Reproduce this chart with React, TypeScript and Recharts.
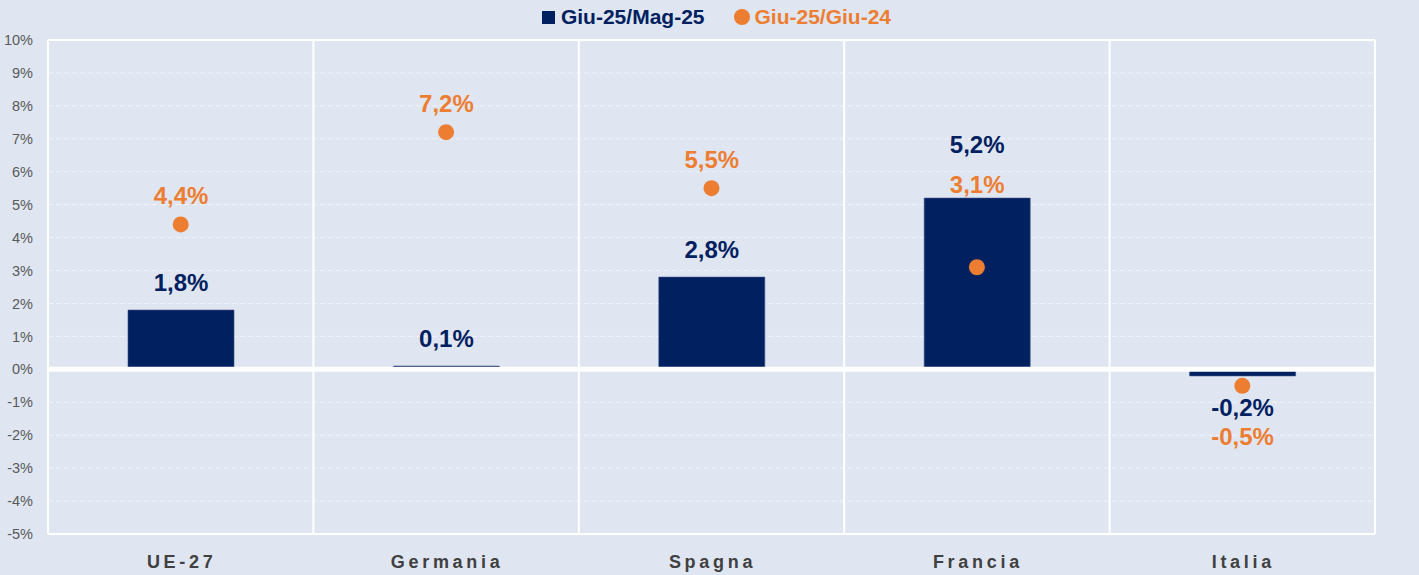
import React from 'react';
import {
  ComposedChart,
  Bar,
  Scatter,
  XAxis,
  YAxis,
  CartesianGrid,
  ReferenceLine,
  Legend,
  LabelList,
} from 'recharts';

const categories = ['UE-27', 'Germania', 'Spagna', 'Francia', 'Italia'];
const monthOnMonth = [1.8, 0.1, 2.8, 5.2, -0.2]; // Giu-25/Mag-25
const yearOnYear = [4.4, 7.2, 5.5, 3.1, -0.5]; // Giu-25/Giu-24
const yTicks = [-5, -4, -3, -2, -1, 0, 1, 2, 3, 4, 5, 6, 7, 8, 9, 10];

const NAVY = '#002060';
const ORANGE = '#ED7D31';
const BG = '#DFE6F2';
const FONT = '"Liberation Sans", Arial, sans-serif';

const data = categories.map((name, i) => ({
  name,
  mom: monthOnMonth[i],
  yoy: yearOnYear[i],
}));

const fmt = (v: number) => `${v.toFixed(1).replace('.', ',')}%`;

// both value labels are drawn from the bar label so they can avoid each other
const ValueLabels = (props: any) => {
  const { x, y, width, height, index } = props;
  const bar = monthOnMonth[index];
  const dot = yearOnYear[index];
  const zero = y + height;
  const ppu = Math.abs(height / bar);
  const dotY = zero - dot * ppu;
  const cx = x + width / 2;
  let barLabelY: number;
  let dotLabelY: number;
  if (bar >= 0) {
    if (dot >= 0 && dot < bar) {
      dotLabelY = y - 14;
      barLabelY = y - 54;
    } else {
      barLabelY = y - 28;
      dotLabelY = dotY - 29;
    }
  } else {
    barLabelY = y + 32;
    dotLabelY = y + 61;
  }
  const common = {
    x: cx,
    textAnchor: 'middle' as const,
    dominantBaseline: 'central' as const,
    fontFamily: FONT,
    fontWeight: 700,
    fontSize: 24,
  };
  return (
    <g>
      <text {...common} y={barLabelY} fill={NAVY}>{fmt(bar)}</text>
      <text {...common} y={dotLabelY} fill={ORANGE}>{fmt(dot)}</text>
    </g>
  );
};

const LegendContent = () => (
  <div
    style={{
      display: 'flex',
      justifyContent: 'center',
      alignItems: 'center',
      height: 34,
      paddingLeft: 14,
      fontFamily: FONT,
      fontWeight: 700,
      fontSize: 21,
    }}
  >
    <span style={{ width: 13, height: 13, background: NAVY, marginRight: 6 }} />
    <span style={{ color: NAVY, marginRight: 29 }}>Giu-25/Mag-25</span>
    <span style={{ width: 16, height: 16, borderRadius: 8, background: ORANGE, marginRight: 5 }} />
    <span style={{ color: ORANGE }}>Giu-25/Giu-24</span>
  </div>
);

const CategoryTick = (props: any) => {
  const { x, y, payload } = props;
  return (
    <text
      x={x + 1}
      y={y + 34}
      textAnchor="middle"
      fill="#404040"
      fontFamily={FONT}
      fontWeight={700}
      fontSize={18}
      letterSpacing={3.7}
    >
      {payload.value}
    </text>
  );
};

const tickStyle = { fontSize: 14.5, fill: '#595959', fontFamily: FONT };

export default function App() {
  return (
    <div style={{ position: 'absolute', left: 0, top: 0, width: 1419, height: 575, background: BG }}>
      <ComposedChart
        width={1419}
        height={575}
        data={data}
        margin={{ top: 6, right: 0, bottom: 0, left: 0 }}
      >
        <Legend
          verticalAlign="top"
          content={<LegendContent />}
          wrapperStyle={{ top: 0, height: 34 }}
        />
        <CartesianGrid
          vertical={false}
          stroke="#FFFFFF"
          strokeOpacity={0.55}
          strokeDasharray="5 3"
        />
        <CartesianGrid
          stroke="#FFFFFF"
          strokeWidth={2}
          horizontalCoordinatesGenerator={({ offset }: any) => [offset.top, offset.top + offset.height]}
          verticalCoordinatesGenerator={({ offset }: any) =>
            categories.map((_, i) => offset.left + (i * offset.width) / categories.length).concat(offset.left + offset.width)
          }
        />
        <XAxis
          dataKey="name"
          height={41}
          axisLine={false}
          tickLine={false}
          tickSize={0}
          tickMargin={0}
          tick={<CategoryTick />}
          interval={0}
        />
        <YAxis
          width={48}
          domain={[-5, 10]}
          ticks={yTicks}
          interval={0}
          axisLine={false}
          tickLine={false}
          tickSize={8}
          tickMargin={7}
          tick={tickStyle}
          tickFormatter={(v) => `${v}%`}
        />
        <YAxis
          yAxisId="right"
          orientation="right"
          width={44}
          domain={[-5, 10]}
          ticks={yTicks}
          interval={0}
          axisLine={false}
          tickLine={false}
          tickSize={8}
          tickMargin={7}
          tick={{ ...tickStyle, textAnchor: 'start' }}
          tickFormatter={(v) => `${v}%`}
        />
        <Bar
          dataKey="mom"
          name="Giu-25/Mag-25"
          fill={NAVY}
          stroke="#3B5184"
          strokeWidth={0.6}
          barSize={106}
          isAnimationActive={false}
        >
          <LabelList dataKey="mom" content={<ValueLabels />} />
        </Bar>
        <ReferenceLine y={0} stroke="#FFFFFF" strokeWidth={5} />
        <Scatter
          dataKey="yoy"
          name="Giu-25/Giu-24"
          fill={ORANGE}
          isAnimationActive={false}
          shape={(p: any) => <circle cx={p.cx} cy={p.cy} r={8} fill={ORANGE} />}
        />
      </ComposedChart>
    </div>
  );
}
